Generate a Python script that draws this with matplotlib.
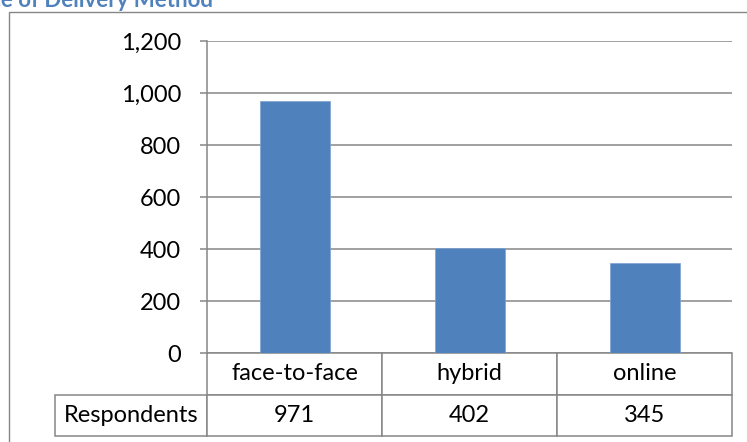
import matplotlib.pyplot as plt
from matplotlib.patches import Rectangle
from matplotlib.table import Table
from matplotlib.ticker import FuncFormatter, MultipleLocator

plt.rcParams["font.family"] = ["Lato", "DejaVu Sans"]

TITLE = "Preference of Delivery Method"
CATEGORIES = ["face-to-face", "hybrid", "online"]
RESPONDENTS = [971, 402, 345]
ROW_LABEL = "Respondents"

BAR_COLOR = "#4F81BD"
GRID_COLOR = "#868686"
W, H = 747, 442
FS = 17

fig = plt.figure(figsize=(W / 100, H / 100), dpi=100)

# outer chart border (runs past right/bottom edge of the picture)
fig.patches.append(Rectangle((9 / W, -0.05), 1.0, 1 - 12 / H + 0.05,
                             transform=fig.transFigure, fill=False,
                             edgecolor=GRID_COLOR, linewidth=1.0))

fig.text(213 / W, 1 - 7 / H, TITLE, ha="right", va="baseline",
         fontsize=16, fontweight="bold", color=BAR_COLOR)

ax = fig.add_axes([207 / W, 1 - 353 / H, 525 / W, 312 / H])
x = range(len(CATEGORIES))
ax.bar(x, RESPONDENTS, width=0.4, color=BAR_COLOR, edgecolor="#7FA3D3",
       linewidth=0.5, zorder=3)
ax.set_xlim(-0.5, len(CATEGORIES) - 0.5)
ax.set_ylim(0, 1200)
ax.yaxis.set_major_locator(MultipleLocator(200))
ax.yaxis.set_major_formatter(FuncFormatter(lambda v, p: f"{int(v):,}"))
ax.grid(axis="y", color=GRID_COLOR, linewidth=1.1, zorder=0)
ax.set_xticks([])
for side in ["top", "right", "bottom"]:
    ax.spines[side].set_visible(False)
ax.spines["left"].set_color(GRID_COLOR)
ax.spines["left"].set_linewidth(1.1)
ax.tick_params(axis="y", length=5, width=1.1, color=GRID_COLOR, pad=13.5,
               labelsize=FS, labelcolor="black")

# data table under the plot: category row, then the value row with its label
# (the bbox covers the data cells only; the label column hangs off the left)
label_w = 152 / 525
col_w = 1 / len(CATEGORIES)
row_h = 0.5
table = Table(ax, bbox=[0, -83 / 312, 1, 83 / 312])
for j, cat in enumerate(CATEGORIES):
    table.add_cell(0, j, col_w, row_h, text=cat, loc="center")
    table.add_cell(1, j, col_w, row_h, text=str(RESPONDENTS[j]), loc="center")
table.add_cell(1, -1, label_w, row_h, text=ROW_LABEL, loc="center")
table.auto_set_font_size(False)
table.set_fontsize(FS)
for cell in table.get_celld().values():
    cell.set_edgecolor(GRID_COLOR)
    cell.set_linewidth(1.1)
ax.add_table(table)

fig.savefig("out.png", dpi=100)
